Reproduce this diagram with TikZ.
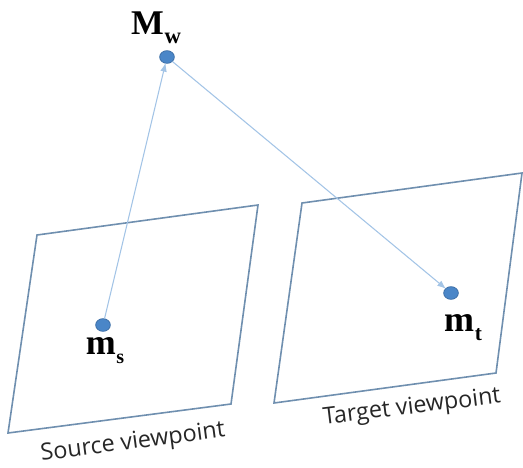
\documentclass[tikz,border=0pt]{standalone}
\usepackage{fontspec}
\usepackage{tikz}
\usetikzlibrary{arrows.meta,shapes.geometric}
\newfontfamily\labfont{Liberation Serif}
\newfontfamily\capfont{Open Sans}
\definecolor{frame}{HTML}{6F8FAF}
\definecolor{ray}{HTML}{A3C4E6}
\definecolor{dotfill}{HTML}{4A86C8}
\definecolor{dotline}{HTML}{3F70A8}
% point label: letter, subscript, size, subscript size
\newcommand{\ptlab}[4]{{\labfont\bfseries\fontsize{#3}{#3}\selectfont #1\kern0.5pt\raisebox{-0.25em}{\fontsize{#4}{#4}\selectfont #2}}}

\begin{document}
\begin{tikzpicture}[x=0.75pt,y=-0.75pt,
    dot/.style={ellipse,draw=dotline,fill=dotfill,line width=0.6pt,
      minimum width=11pt,minimum height=9.5pt,inner sep=0pt},
    link/.style={ray,line width=0.8pt,-{Latex[length=6.5pt,width=5pt]},shorten >=-0.5pt},
    plane/.style={frame,line width=1.2pt,line join=miter},
    viewcap/.style={font=\capfont\fontsize{17.5pt}{18pt}\selectfont,color=black!85,inner sep=1pt}]
  \useasboundingbox (0,0) rectangle (523,467);
  % image planes
  \draw[plane] (37,235) -- (258,205) -- (231,404) -- (8,433) -- cycle;
  \draw[plane] (302,203) -- (522,173) -- (496,373) -- (274,403) -- cycle;
  % points
  \node[dot] (Mw) at (167,57) {};
  \node[dot] (ms) at (103,325) {};
  \node[dot] (mt) at (451,293) {};
  \draw[link] (ms) -- (Mw);
  \draw[link] (Mw) -- (mt);
  \node (Mwlab) at (156,28) {\ptlab{M}{w}{26pt}{17pt}};
  \node (mslab) at (105,351) {\ptlab{m}{s}{27pt}{15pt}};
  \node (mtlab) at (463,328) {\ptlab{m}{t}{27pt}{16pt}};
  \node[viewcap,rotate=7.5] (srccap) at (133,443) {Source viewpoint};
  \node[viewcap,rotate=7] (tgtcap) at (412,408) {Target viewpoint};
\end{tikzpicture}
\end{document}
